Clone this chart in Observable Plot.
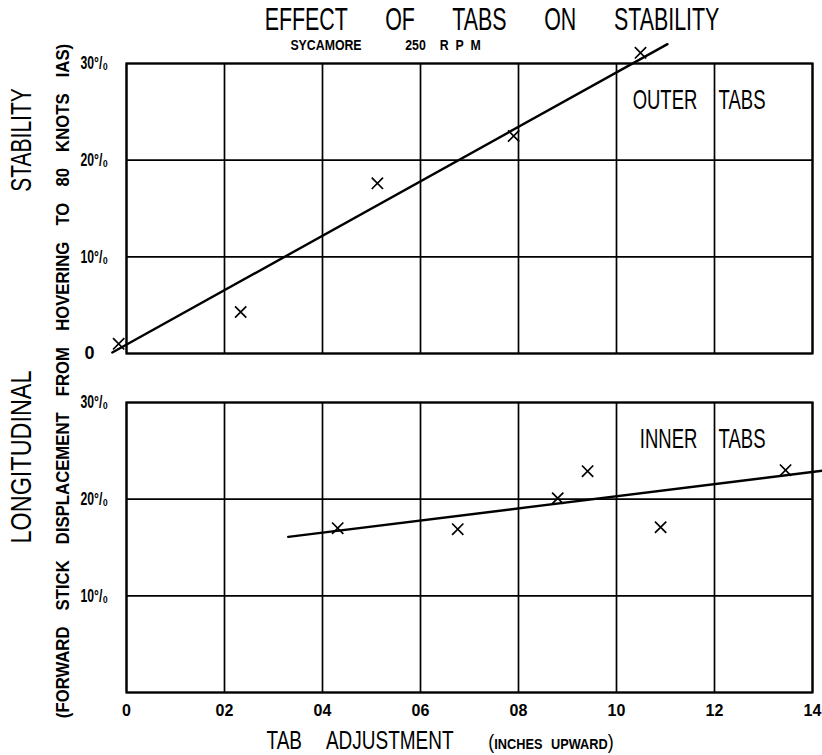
<!DOCTYPE html>
<html>
<head>
<meta charset="utf-8">
<script src="https://cdn.jsdelivr.net/npm/d3@7"></script>
<script src="https://cdn.jsdelivr.net/npm/@observablehq/plot@0.6"></script>
<style>
  html, body { margin: 0; padding: 0; background: #fff; }
  #wrap { position: relative; width: 822px; height: 755px; overflow: hidden; background: #fff; }
  #chart { position: absolute; left: 0; top: 0; }
  .t { position: absolute; white-space: pre; color: #000; font-family: 'Liberation Sans', Arial, sans-serif; line-height: 1; }
</style>
</head>
<body>
<div id="wrap">
  <div id="chart"></div>
  <div class="t" style="left:492px; top:19px; font-size:31px; word-spacing:46px; transform:translate(-50%,-50%) scaleX(0.69);">EFFECT OF TABS ON STABILITY</div>
  <div class="t" style="left:326px; top:45px; font-size:14px; font-weight:bold; transform:translate(-50%,-50%) scaleX(0.88);">SYCAMORE</div>
  <div class="t" style="left:443px; top:45px; font-size:14px; font-weight:bold; word-spacing:4px; transform:translate(-50%,-50%) scaleX(0.88);">250  R P M</div>
  <div class="t" style="left:21px; top:140px; font-size:30px; transform:translate(-50%,-50%) rotate(-90deg) scaleX(0.7);">STABILITY</div>
  <div class="t" style="left:21px; top:457px; font-size:30px; transform:translate(-50%,-50%) rotate(-90deg) scaleX(0.78);">LONGITUDINAL</div>
  <div class="t" style="left:62px; top:381px; font-size:19px; font-weight:bold; word-spacing:13px; transform:translate(-50%,-50%) rotate(-90deg) scaleX(0.88);">(FORWARD STICK DISPLACEMENT FROM HOVERING TO 80 KNOTS IAS)</div>
  <div class="t" style="left:360px; top:740px; font-size:26px; word-spacing:27px; transform:translate(-50%,-50%) scaleX(0.73);">TAB ADJUSTMENT</div>
  <div class="t" style="left:551px; top:741px; font-size:15px; font-weight:bold; word-spacing:6px; transform:translate(-50%,-50%) scaleX(0.85);"><span style="font-size:21px; font-weight:normal;">(</span>INCHES UPWARD<span style="font-size:21px; font-weight:normal;">)</span></div>
</div>
<script>
// ---- data ----
const panels = ["OUTER TABS", "INNER TABS"];
const xTicks = [0, 2, 4, 6, 8, 10, 12, 14];
const xTickLabels = ["0", "02", "04", "06", "08", "10", "12", "14"];
const yTicks = [0, 10, 20, 30];
const yTickLabelsOuter = ["0", "10°/₀", "20°/₀", "30°/₀"];
const yTickLabelsInner = ["", "10°/₀", "20°/₀", "30°/₀"];

const outerX = [-0.16, 2.33, 5.12, 7.9, 10.49];
const outerY = [1.0, 4.3, 17.6, 22.5, 31.1];
const innerX = [4.31, 6.76, 8.8, 9.41, 10.9, 13.45];
const innerY = [17.0, 16.9, 20.1, 22.9, 17.1, 23.0];

const outerFitX = [-0.29, 11.04];
const outerFitY = [0.1, 32.0];
const innerFitX = [3.3, 14.3];
const innerFitY = [16.1, 23.0];

// ---- tables ----
const pts = [
  ...outerX.map((x, i) => ({panel: panels[0], x, y: outerY[i]})),
  ...innerX.map((x, i) => ({panel: panels[1], x, y: innerY[i]}))
];
const fits = [
  ...outerFitX.map((x, i) => ({panel: panels[0], x, y: outerFitY[i]})),
  ...innerFitX.map((x, i) => ({panel: panels[1], x, y: innerFitY[i]}))
];
const yLabels = [
  ...yTicks.map((y, i) => ({panel: panels[0], y, label: yTickLabelsOuter[i]})),
  ...yTicks.map((y, i) => ({panel: panels[1], y, label: yTickLabelsInner[i]}))
];
const panelRows = panels.map(p => ({panel: p}));

const font = "'Liberation Sans', Arial, sans-serif";

const chart = Plot.plot({
  width: 822,
  height: 755,
  marginTop: 62,
  marginBottom: 62,
  marginLeft: 126,
  marginRight: 10,
  style: {fontFamily: font, background: "transparent", color: "#000"},
  x: {domain: [0, 14], axis: null},
  y: {domain: [0, 30], axis: null},
  fy: {domain: panels, paddingInner: 0.144, paddingOuter: 0, axis: null, label: null},
  marks: [
    Plot.gridX(xTicks, {stroke: "#000", strokeOpacity: 1, strokeWidth: 1.7}),
    Plot.gridY(yTicks, {stroke: "#000", strokeOpacity: 1, strokeWidth: 1.7}),
    Plot.frame({stroke: "#000", strokeWidth: 2.2}),
    Plot.text(panelRows, {fy: "panel", text: "panel", frameAnchor: "top-right", textAnchor: "end", lineAnchor: "middle", dx: -47, dy: 37, fontSize: 28, fill: "#000"}),
    Plot.line(fits, {x: "x", y: "y", fy: "panel", z: "panel", stroke: "#000", strokeWidth: 2.4}),
    Plot.dot(pts, {x: "x", y: "y", fy: "panel", symbol: "times", r: 5.2, stroke: "#000", strokeWidth: 1.7}),
    Plot.text(yLabels, {fy: "panel", y: "y", text: "label", frameAnchor: "left", textAnchor: "start", dx: -46, fontSize: 18, fontWeight: "bold", fill: "#000"}),
    Plot.axisX(xTicks, {tickSize: 0, tickPadding: 12, tickFormat: (d, i) => xTickLabels[i], fontSize: 16, fontWeight: "bold", label: null})
  ]
});

// condense lettering like the stencil original (horizontal scale about each text's anchor)
function condense(t, s) {
  const num = v => v != null && v !== "" && isFinite(+v);
  const ax = t.getAttribute("x"), ay = t.getAttribute("y");
  let x = 0, y = 0;
  if (num(ax)) { x = +ax; t.removeAttribute("x"); }
  if (num(ay)) { y = +ay; t.removeAttribute("y"); }
  const tr = t.getAttribute("transform") || "";
  t.setAttribute("transform", `${tr} translate(${x},${y}) scale(${s},1)`.trim());
}
const textGroups = chart.querySelectorAll('g[aria-label="text"]');
if (textGroups[0]) {
  textGroups[0].querySelectorAll("text").forEach(t => {
    t.style.wordSpacing = "25px";
    condense(t, 0.66);
  });
}
if (textGroups[1]) {
  textGroups[1].querySelectorAll("text").forEach(t => {
    if (t.textContent.includes("°")) {
      condense(t, 0.68);
    } else if (t.textContent === "0") {
      t.setAttribute("dx", "4");
    }
  });
}
document.getElementById("chart").appendChild(chart);
</script>
</body>
</html>
